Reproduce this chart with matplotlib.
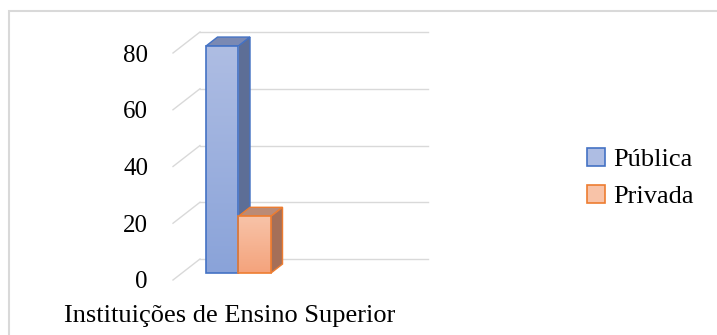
import numpy as np
import matplotlib.pyplot as plt
from matplotlib.patches import Polygon, Rectangle, Patch
from matplotlib.colors import LinearSegmentedColormap

# dados
categoria = 'Instituições de Ensino Superior'
series = ['Pública', 'Privada']
valores = [80, 20]
ticks = [0, 20, 40, 60, 80]

plt.rcParams['font.family'] = ['Liberation Serif', 'DejaVu Serif']
fs = 19

W, H = 717, 335
fig = plt.figure(figsize=(W / 100, H / 100), dpi=100)

# moldura cinza do grafico
fig.patches.append(Rectangle((9 / W, -0.1), 1.2, (H - 11) / H + 0.1, transform=fig.transFigure,
                             fill=False, edgecolor='#d9d9d9', lw=1.5))

# plano frontal do grafico 3D
ax = fig.add_axes([173 / W, (H - 280) / H, 228 / W, 227 / H])
ax.set_xlim(0, 1)
ax.set_ylim(0, 80)
for s in ax.spines.values():
    s.set_visible(False)
ax.set_xticks([])
ax.set_yticks(ticks)
ax.set_yticklabels([str(t) for t in ticks], fontsize=18)
ax.tick_params(axis='y', length=0, pad=18)
ax.patch.set_alpha(0)

# profundidade (obliqua)
dx, dy = 27 / 228, 21 * 80 / 227

# grades: diagonal no chao + linha no fundo
for t in ticks:
    ax.plot([0, dx], [t, t + dy], color='#d9d9d9', lw=1, clip_on=False, zorder=1)
    ax.plot([dx, 1 + dx], [t + dy, t + dy], color='#d9d9d9', lw=1, clip_on=False, zorder=1)

faces = {
    'Pública': dict(top='#7a89b3', side='#5d6e96', edge='#4472c4', g0='#8aa3d9', g1='#aebde3'),
    'Privada': dict(top='#bb8b76', side='#a56f58', edge='#ed7d31', g0='#f4a37c', g1='#f8c3a8'),
}

w = 32.5 / 228
x_ini = 24 / 228
f0, f1 = 0.33, 0.76
for i, (nome, v) in enumerate(zip(series, valores)):
    c = faces[nome]
    x0 = x_ini + i * w + f0 * dx
    x1 = x0 + w
    y0 = f0 * dy
    y1 = v + f0 * dy
    bx, by = (f1 - f0) * dx, (f1 - f0) * dy
    # topo e lateral
    ax.add_patch(Polygon([(x0, y1), (x1, y1), (x1 + bx, y1 + by), (x0 + bx, y1 + by)],
                         closed=True, facecolor=c['top'], edgecolor=c['edge'], lw=1,
                         clip_on=False, zorder=3))
    ax.add_patch(Polygon([(x1, y0), (x1 + bx, y0 + by), (x1 + bx, y1 + by), (x1, y1)],
                         closed=True, facecolor=c['side'], edgecolor=c['edge'], lw=1,
                         clip_on=False, zorder=3))
    # frente com degrade
    frente = Rectangle((x0, y0), w, v, facecolor='none', edgecolor=c['edge'], lw=1.2,
                       clip_on=False, zorder=5)
    ax.add_patch(frente)
    grad = np.linspace(0, 1, 100).reshape(-1, 1)
    cm = LinearSegmentedColormap.from_list(nome, [c['g0'], c['g1']])
    im = ax.imshow(grad, cmap=cm, extent=[x0, x1, y0, y1], origin='lower',
                   aspect='auto', zorder=4)
    im.set_clip_path(frente)

ax.set_xlim(0, 1)
ax.set_ylim(0, 80)

fig.text(230 / W, 13 / H, categoria, ha='center', va='baseline', fontsize=fs)

handles = [Patch(facecolor=faces[s]['g1'], edgecolor=faces[s]['edge'], lw=1.2, label=s)
           for s in series]
fig.legend(handles=handles, loc='center left', bbox_to_anchor=(576 / W, (H - 178) / H),
           frameon=False, fontsize=fs, handlelength=0.7, handleheight=0.7,
           handletextpad=0.3, labelspacing=0.52, borderaxespad=0)

fig.savefig('out.png', dpi=100)
